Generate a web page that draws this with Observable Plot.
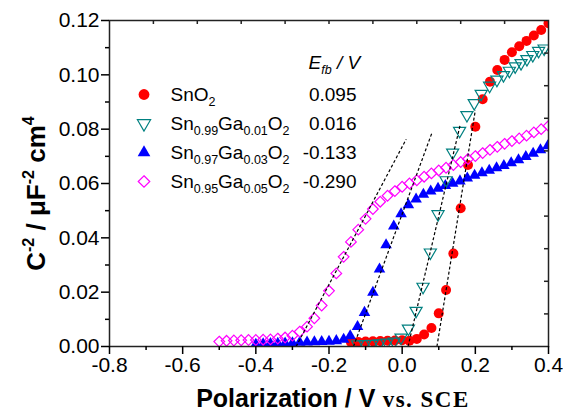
<!DOCTYPE html>
<html><head><meta charset="utf-8">
<script src="https://cdn.jsdelivr.net/npm/d3@7"></script>
<script src="https://cdn.jsdelivr.net/npm/@observablehq/plot@0.6"></script>
<style>body{margin:0;background:#fff;} svg{display:block}</style>
</head><body>
<script>
// ---- data ----
const seriesNames = ["SnO_{2}", "Sn_{0.99}Ga_{0.01}O_{2}", "Sn_{0.97}Ga_{0.03}O_{2}", "Sn_{0.95}Ga_{0.05}O_{2}"];
const efbLabels = ["0.095", "0.016", "-0.133", "-0.290"];
const efb = [0.095, 0.016, -0.133, -0.290];
const fitEndX = [0.200, 0.159, 0.081, 0.011];
const fitEndY = [0.087, 0.0818, 0.0785, 0.0763];
const seriesColors = ["#ff0000", "#008080", "#0000ff", "#ff00ff"];

const snO2X = [-0.14,-0.12,-0.10,-0.08,-0.06,-0.04,-0.02,0.00,0.02,0.04,0.06,0.08,0.10,0.12,0.14,0.16,0.18,0.20,0.22,0.24,0.26,0.28,0.30,0.32,0.34,0.36,0.38,0.40];
const snO2Y = [0.0016,0.0017,0.0018,0.0019,0.0020,0.0021,0.0022,0.0023,0.0021,0.0028,0.0044,0.0068,0.0122,0.0208,0.0342,0.0509,0.0668,0.0809,0.0910,0.0975,0.1018,0.1055,0.1083,0.1105,0.1125,0.1145,0.1165,0.1190];

const ga01X = [-0.122,-0.102,-0.082,-0.062,-0.042,-0.022,-0.003,0.017,0.038,0.057,0.077,0.098,0.120,0.138,0.157,0.177,0.197,0.216,0.239,0.259,0.277,0.293,0.309,0.325,0.341,0.357,0.373,0.388];
const ga01Y = [0.0008,0.0009,0.0010,0.0012,0.0014,0.0018,0.0033,0.0066,0.0131,0.0220,0.0346,0.0487,0.0612,0.0714,0.0794,0.0852,0.0896,0.0930,0.0960,0.0982,0.0999,0.1015,0.1031,0.1043,0.1058,0.1073,0.1088,0.1097];

const ga03X = [-0.40,-0.38,-0.36,-0.34,-0.32,-0.30,-0.28,-0.26,-0.24,-0.22,-0.20,-0.18,-0.16,-0.142,-0.122,-0.103,-0.080,-0.062,-0.044,-0.023,-0.003,0.017,0.038,0.058,0.078,0.098,0.118,0.138,0.158,0.178,0.198,0.218,0.238,0.258,0.278,0.298,0.318,0.338,0.358,0.378,0.398];
const ga03Y = [0.0008,0.0009,0.0010,0.0011,0.0012,0.0013,0.0015,0.0016,0.0017,0.0018,0.0019,0.0021,0.0026,0.0039,0.0073,0.0125,0.0199,0.0285,0.0374,0.0443,0.0488,0.0521,0.0542,0.0560,0.0572,0.0582,0.0592,0.0600,0.0609,0.0620,0.0630,0.0639,0.0648,0.0657,0.0666,0.0676,0.0687,0.0699,0.0711,0.0724,0.0738];

const ga05X = [-0.50,-0.48,-0.46,-0.44,-0.42,-0.40,-0.38,-0.36,-0.34,-0.32,-0.30,-0.28,-0.26,-0.24,-0.22,-0.20,-0.18,-0.16,-0.14,-0.12,-0.10,-0.08,-0.06,-0.04,-0.02,0.00,0.02,0.04,0.06,0.08,0.10,0.12,0.14,0.16,0.18,0.20,0.22,0.24,0.26,0.28,0.30,0.32,0.34,0.36,0.38,0.40];
const ga05Y = [0.0018,0.0021,0.0022,0.0023,0.0024,0.0024,0.0025,0.0026,0.0029,0.0033,0.0040,0.0055,0.0073,0.0104,0.0151,0.0205,0.0269,0.0330,0.0385,0.0430,0.0470,0.0506,0.0533,0.0555,0.0572,0.0588,0.0600,0.0612,0.0625,0.0637,0.0648,0.0658,0.0668,0.0679,0.0690,0.0701,0.0712,0.0724,0.0735,0.0746,0.0756,0.0766,0.0776,0.0788,0.0800,0.0812];

const xMajor = [-0.8,-0.6,-0.4,-0.2,0,0.2,0.4];
const xMinor = [-0.7,-0.5,-0.3,-0.1,0.1,0.3];
const yMajor = [0,0.02,0.04,0.06,0.08,0.10,0.12];
const yMinor = [0.01,0.03,0.05,0.07,0.09,0.11];
const topTicks = [-0.68,-0.56,-0.44,-0.32,-0.20,-0.08,0.04,0.16,0.28];
const rightTicks = [0.012,0.024,0.036,0.048,0.060,0.072,0.084,0.096,0.108];

// ---- build ----
const W = 563, H = 412, ML = 109, MR = 15, MT = 20, MB = 66;
const FH = H - MT - MB, FW = W - ML - MR;
const sans = "'Liberation Sans', Arial, sans-serif";

const triangleDown = {
  draw(ctx, size) {
    const y = Math.sqrt(size / (Math.sqrt(3) * 3)), s = Math.sqrt(3) * y;
    ctx.moveTo(0, 2 * y); ctx.lineTo(-s, -y); ctx.lineTo(s, -y); ctx.closePath();
  }
};
const pts = (X, Y) => X.map((x, i) => ({x, y: Y[i]}));
const series = [
  {data: pts(snO2X, snO2Y), symbol: "circle", r: 5, fill: seriesColors[0], stroke: "none"},
  {data: pts(ga03X, ga03Y), symbol: "triangle", r: 4.3, fill: seriesColors[2], stroke: "none"},
  {data: pts(ga01X, ga01Y), symbol: triangleDown, r: 4.5, fill: "none", stroke: seriesColors[1]},
  {data: pts(ga05X, ga05Y), symbol: "diamond2", r: 4.8, fill: "none", stroke: seriesColors[3]}
];
const legendSym = [series[0], series[2], series[1], series[3]];

const fits = efb.map((e, i) => ({x1: e, y1: 0, x2: fitEndX[i], y2: fitEndY[i]}));

const marks = [];
for (const s of series) {
  marks.push(Plot.dot(s.data, {x: "x", y: "y", symbol: s.symbol, r: s.r, fill: s.fill, stroke: s.stroke, strokeWidth: 1.2, clip: true}));
}
marks.push(Plot.link(fits, {x1: "x1", y1: "y1", x2: "x2", y2: "y2", stroke: "#000", strokeWidth: 1.2, strokeDasharray: "3,2.2"}));

// axes
marks.push(Plot.frame({stroke: "#222", strokeWidth: 1.5}));
marks.push(Plot.axisY({ticks: yMajor, tickSize: 8, tickPadding: 2, tickFormat: d => d.toFixed(2), fontSize: 21, strokeWidth: 1.5, label: null}));
marks.push(Plot.axisY({ticks: yMinor, tickSize: 4, tickFormat: () => "", strokeWidth: 1.5, label: null}));
marks.push(Plot.axisX({ticks: xMajor, tickSize: 8, tickPadding: 3, tickFormat: d => d.toFixed(1), fontSize: 21, strokeWidth: 1.5, label: null}));
marks.push(Plot.axisX({ticks: xMinor, tickSize: 4, tickFormat: () => "", strokeWidth: 1.5, label: null}));
marks.push(Plot.ruleX(topTicks, {insetBottom: FH - 4, strokeWidth: 1.5, stroke: "#222"}));
marks.push(Plot.ruleY(rightTicks, {insetLeft: FW - 4, strokeWidth: 1.5, stroke: "#222"}));

// legend
marks.push(Plot.text(["E_{fb} / V"], {text: d => d, frameAnchor: "top-left", dx: 199, dy: 48, textAnchor: "start", lineAnchor: "bottom", fontSize: 19, fontStyle: "italic", fill: "#000"}));
seriesNames.forEach((name, i) => {
  const s = legendSym[i];
  marks.push(Plot.dot([0], {frameAnchor: "top-left", dx: 34.5, dy: 74 + 29 * i, symbol: s.symbol, r: s.r + 0.4, fill: s.fill, stroke: s.stroke, strokeWidth: 1.2}));
  marks.push(Plot.text([name], {text: d => d, frameAnchor: "top-left", dx: 61, dy: 80 + 29 * i, textAnchor: "start", lineAnchor: "bottom", fontSize: 19, fill: "#000"}));
  marks.push(Plot.text([efbLabels[i]], {text: d => d, frameAnchor: "top-left", dx: 247, dy: 80 + 29 * i, textAnchor: "end", lineAnchor: "bottom", fontSize: 19, fill: "#000"}));
});

// axis titles
marks.push(Plot.text(["Polarization / V|vs. SCE"], {text: d => d, frameAnchor: "bottom", dx: 4, dy: 60, textAnchor: "middle", lineAnchor: "bottom", fontSize: 25, fontWeight: "bold", fill: "#000"}));
marks.push(Plot.text(["C^{-2} / μF^{-2} cm^{4}"], {text: d => d, frameAnchor: "left", dx: -65, dy: 10, rotate: -90, textAnchor: "middle", lineAnchor: "bottom", fontSize: 26, fontWeight: "bold", fill: "#000"}));

const chart = Plot.plot({
  width: W, height: H,
  marginLeft: ML, marginRight: MR, marginTop: MT, marginBottom: MB,
  style: {fontFamily: sans, background: "#fff", color: "#000"},
  x: {domain: [-0.8, 0.4], axis: null},
  y: {domain: [0, 0.12], axis: null},
  marks
});

// rich text: _{sub}, ^{sup}, | switches to serif
function enrich(el, base) {
  const s = el.textContent;
  if (!/_\{|\^\{|\|/.test(s)) return;
  const parts = s.split(/(_\{[^}]*\}|\^\{[^}]*\}|\|)/).filter(p => p !== "");
  while (el.firstChild) el.removeChild(el.firstChild);
  let cur = 0, serif = false;
  const ns = "http://www.w3.org/2000/svg";
  for (const p of parts) {
    if (p === "|") { serif = true; continue; }
    let txt = p, shift = 0, size = null;
    if (p.startsWith("_{")) { txt = p.slice(2, -1); shift = 0.27 * base; size = 0.66 * base; }
    else if (p.startsWith("^{")) { txt = p.slice(2, -1); shift = -0.40 * base; size = 0.62 * base; }
    const t = document.createElementNS(ns, "tspan");
    t.textContent = (serif && !p.startsWith("_") && !p.startsWith("^")) ? " " + txt : txt;
    if (shift - cur !== 0) t.setAttribute("dy", (shift - cur).toFixed(2));
    cur = shift;
    if (size) t.setAttribute("font-size", size.toFixed(1));
    if (serif) { t.setAttribute("font-family", "'Liberation Serif', 'Times New Roman', serif"); t.setAttribute("font-size", "23"); t.setAttribute("letter-spacing", "1.5"); }
    el.appendChild(t);
  }
}
chart.querySelectorAll("text").forEach(el => {
  const g = el.closest("g[font-size]");
  const fs = g ? parseFloat(g.getAttribute("font-size")) : 19;
  enrich(el, fs || 19);
});
document.body.appendChild(chart);
</script>
</body></html>
